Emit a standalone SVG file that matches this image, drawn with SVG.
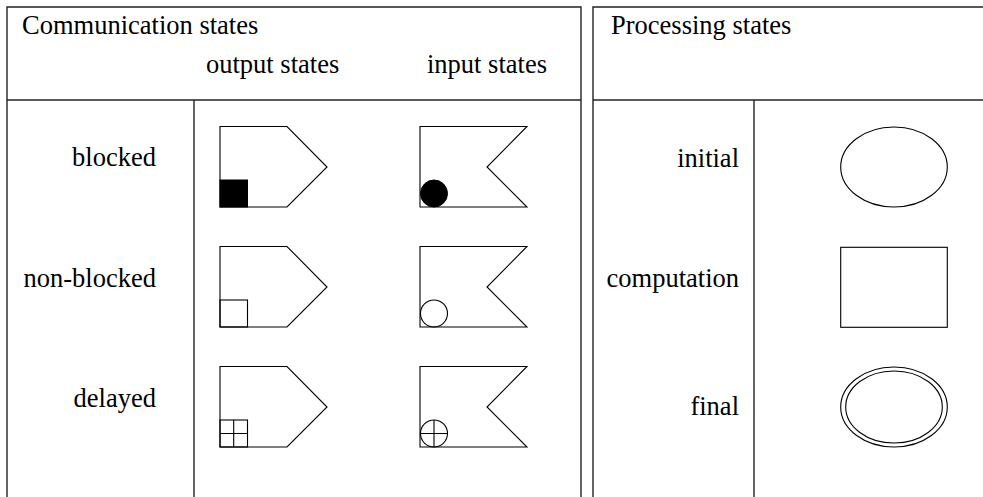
<svg xmlns="http://www.w3.org/2000/svg" width="983" height="497" viewBox="0 0 983 497">
<style>
text{font-family:"Liberation Serif","Times New Roman",serif;font-size:26.5px;fill:#000}
.r{text-anchor:end}
.grid{stroke:#222;stroke-width:1.4;fill:none}
.s{stroke:#000;stroke-width:1.1;fill:none}
.f{fill:#000;stroke:#000;stroke-width:1}
</style>
<rect width="983" height="497" fill="#fff"/>
<g id="table" class="grid">
<path d="M7,497 V7 H581 V497"/>
<path d="M7,100 H581"/>
<path d="M194,100 V497"/>
<path d="M593,497 V7 H983"/>
<path d="M593,100 H983"/>
<path d="M754,100 V497"/>
</g>
<g id="headers">
<text x="22" y="34">Communication states</text>
<text x="206" y="73">output states</text>
<text x="427" y="73">input states</text>
<text x="611" y="34">Processing states</text>
</g>
<g id="row-labels">
<text class="r" x="156" y="166">blocked</text>
<text class="r" x="156" y="287">non-blocked</text>
<text class="r" x="156" y="407">delayed</text>
<text class="r" x="739" y="167">initial</text>
<text class="r" x="739" y="287">computation</text>
<text class="r" x="739" y="415">final</text>
</g>
<g id="out-blocked">
<polygon class="s" points="220,126.5 287,126.5 327,167 287,207 220,207"/>
<rect class="f" x="220" y="180" width="27.5" height="27"/>
</g>
<g id="in-blocked">
<polygon class="s" points="420,126.5 527,126.5 487,167 527,207 420,207"/>
<circle class="f" cx="434" cy="193.5" r="13.5"/>
</g>
<g id="out-nonblocked">
<polygon class="s" points="220,246.5 287,246.5 327,287 287,327 220,327"/>
<rect class="s" x="220" y="300" width="27.5" height="27"/>
</g>
<g id="in-nonblocked">
<polygon class="s" points="420,246.5 527,246.5 487,287 527,327 420,327"/>
<circle class="s" cx="434" cy="313.5" r="13.5"/>
</g>
<g id="out-delayed">
<polygon class="s" points="220,366.5 287,366.5 327,407 287,447 220,447"/>
<rect class="s" x="220" y="420" width="27.5" height="27"/>
<path class="s" d="M233.7,420 V447 M220,433.5 H247.5"/>
</g>
<g id="in-delayed">
<polygon class="s" points="420,366.5 527,366.5 487,407 527,447 420,447"/>
<circle class="s" cx="434" cy="433.5" r="13.5"/>
<path class="s" d="M434,420 V447 M420.5,433.5 H447.5"/>
</g>
<g id="initial">
<ellipse class="s" cx="894" cy="167" rx="53.3" ry="40"/>
</g>
<g id="computation">
<rect class="s" x="840.7" y="247.3" width="106.6" height="80"/>
</g>
<g id="final">
<ellipse class="s" cx="894" cy="407" rx="53.3" ry="40"/>
<ellipse class="s" cx="894" cy="407" rx="48.3" ry="36"/>
</g>
</svg>
